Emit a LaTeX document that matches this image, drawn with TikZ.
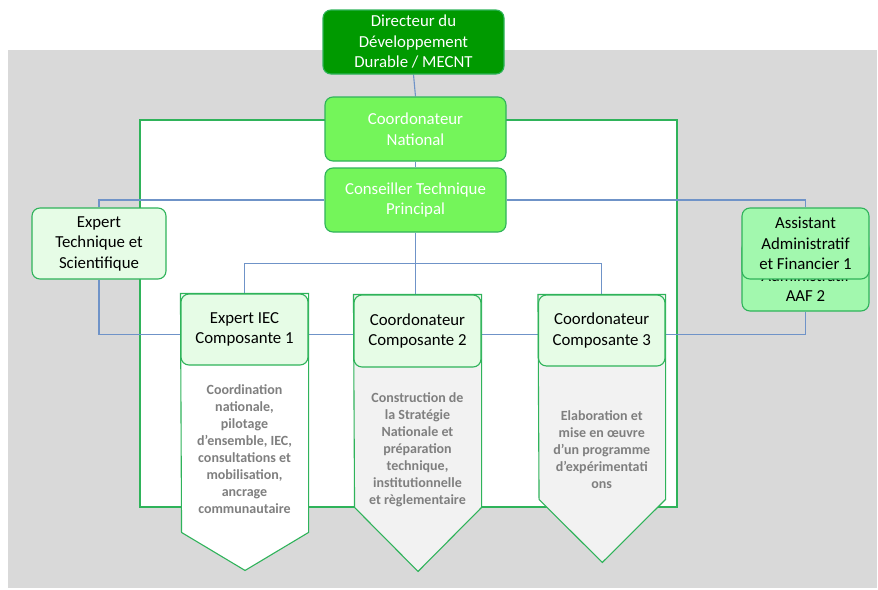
\documentclass[tikz,border=0pt]{standalone}
\usepackage{fontspec}
\setmainfont{Carlito}
\usetikzlibrary{backgrounds}
\definecolor{gbg}{HTML}{D9D9D9}
\definecolor{dgreen}{HTML}{009A00}
\definecolor{bgreen}{HTML}{74F55A}
\definecolor{lgreen}{HTML}{E6FCE6}
\definecolor{agreen}{HTML}{A2F8AE}
\definecolor{bord}{HTML}{2FB35A}
\definecolor{bline}{HTML}{6F93C8}
\definecolor{gtext}{HTML}{7F7F7F}
\definecolor{gbody}{HTML}{F2F2F2}
\tikzset{
  box/.style={draw=bord, line width=1.1pt, rounded corners=8pt, inner sep=0pt,
    align=center, font=\fontsize{16.8}{20.5}\selectfont},
  conn/.style={draw=bline, line width=1.1pt},
  body/.style={draw=bord, line width=1.1pt},
  btext/.style={align=center, text=gtext, font=\fontsize{14}{17}\selectfont\bfseries, inner sep=0pt}
}
\begin{document}
\begin{tikzpicture}[x=1pt,y=-1pt]
\useasboundingbox (0,0) rectangle (878,589);
% nodes
\node[box, fill=dgreen, text=white, minimum width=181pt, minimum height=64pt] (dir) at (413.5,42) {Directeur du\\Développement\\Durable / MECNT};
\node[box, fill=bgreen, text=white, minimum width=181pt, minimum height=64pt] (cn) at (415.5,129) {Coordonateur\\National};
\node[box, fill=bgreen, text=white, minimum width=181pt, minimum height=64pt] (ctp) at (415.5,200) {Conseiller Technique\\Principal};
\node[box, fill=lgreen, minimum width=134pt, minimum height=71pt] (ets) at (99,243.5) {Expert\\Technique et\\Scientifique};
\node[box, fill=agreen, minimum width=127pt, minimum height=71pt] (aaf2) at (805.5,275.5) {Assistant\\Administratif\\AAF 2};
\node[box, fill=agreen, minimum width=127pt, minimum height=71pt] (aaf1) at (805.5,243.5) {Assistant\\Administratif\\et Financier 1};
\node[box, fill=lgreen, minimum width=127pt, minimum height=71pt] (c1) at (244.5,329.5) {Expert IEC\\Composante 1};
\node[box, fill=lgreen, minimum width=127pt, minimum height=72pt] (c2) at (417.5,331) {Coordonateur\\Composante 2};
\node[box, fill=lgreen, minimum width=126.5pt, minimum height=71pt] (c3) at (601.75,330.5) {Coordonateur\\Composante 3};
\node[btext] (t1) at (244.5,449) {Coordination\\nationale,\\pilotage\\d’ensemble, IEC,\\consultations et\\mobilisation,\\ancrage\\communautaire};
\node[btext] (t2) at (417.5,450) {Construction de\\la Stratégie\\Nationale et\\préparation\\technique,\\institutionnelle\\et règlementaire};
\node[btext] (t3) at (601.75,450) {Elaboration et\\mise en œuvre\\d’un programme\\d’expérimentati\\ons};
\begin{scope}[on background layer]
  \fill[gbg] (8,50) rectangle (877,588);
  \draw[draw=bord, line width=1.1pt, fill=white] (140,120) rectangle (677,507);
  % connectors
  \draw[conn] (dir.south) -- (cn.north);
  \draw[conn] (cn.south) -- (ctp.north);
  \draw[conn] (ets.north) |- (ctp.west);
  \draw[conn] (ctp.east) -| (aaf1.north);
  \draw[conn] (ets.south) -- ++(0,55) -| (aaf2.south);
  \draw[conn] (ctp.south) -- ++(0,31) coordinate (bus);
  \draw[conn] (c1.north) |- (bus) -| (c3.north);
  \draw[conn] (bus) -- (bus |- c2.north);
  % bodies
  \draw[body, fill=white] (c1.north west) -- (c1.north east) -- ++(0,239) -- ++(-63.5,38) -- ++(-63.5,-38) -- cycle;
  \draw[body, fill=gbody] (c2.north west) -- (c2.north east) -- ++(0,213) -- ++(-63.5,64) -- ++(-63.5,-64) -- cycle;
  \draw[body, fill=gbody] (c3.north west) -- (c3.north east) -- ++(0,205) -- ++(-63.25,63) -- ++(-63.25,-63) -- cycle;
\end{scope}
\end{tikzpicture}
\end{document}
